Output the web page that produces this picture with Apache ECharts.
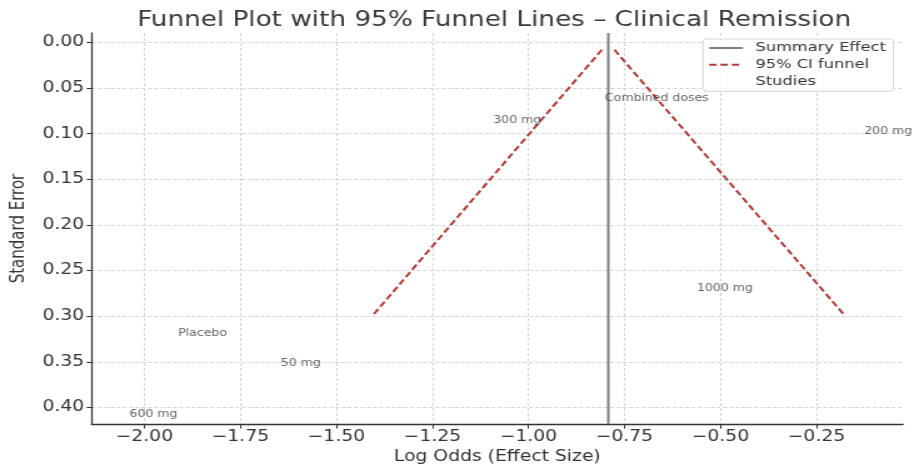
<!DOCTYPE html>
<html>
<head>
<meta charset="utf-8">
<script src="https://cdn.jsdelivr.net/npm/echarts@6/dist/echarts.min.js"></script>
<style>
  html, body { margin: 0; padding: 0; width: 100%; height: 100%; background: #ffffff; overflow: hidden; }
  /* the plot is laid out narrow and widened horizontally, giving the wide lettering */
  #chart { position: absolute; left: 0; top: 0; width: 731px; height: 470px; transform: scaleX(1.2503); transform-origin: 0 0; }
</style>
</head>
<body>
<div id="chart"></div>
<script>
// Study annotations: name, log odds (x) and standard error (y)
const studyNames = ['Placebo', '50 mg', '300 mg', '600 mg', '1000 mg', '200 mg', 'Combined doses'];
const studyLogOdds = [-1.912, -1.645, -1.092, -2.039, -0.5615, -0.126, -0.801];
const studySE = [0.3193, 0.3515, 0.0855, 0.408, 0.270, 0.097, 0.0615];

// Pooled estimate and the two 95% funnel boundaries (log odds, standard error)
const summaryEffect = -0.792;
const funnelLeft = [[-0.809, 0.008], [-1.407, 0.30]];
const funnelRight = [[-0.776, 0.008], [-0.175, 0.30]];

// Axis extents and tick positions
const xRange = [-2.1372, -0.0248];
const yRange = [-0.0104, 0.4183];
const xTicks = [-2.0, -1.75, -1.5, -1.25, -1.0, -0.75, -0.5, -0.25];
const yTicks = [0, 0.05, 0.1, 0.15, 0.2, 0.25, 0.3, 0.35, 0.4];

const FONT = 'DejaVu Sans';
const TEXT = '#333333';
const FUNNEL = '#b23a3a';

function fmtTick(v) {
  const s = Math.abs(v).toFixed(2);
  return v < -1e-9 ? '\u2212' + s : s;
}

const hiddenMarker = { color: 'rgba(0,0,0,0)', borderColor: 'rgba(0,0,0,0)', borderWidth: 0, opacity: 0 };
const gridLine = { show: true, lineStyle: { color: '#d4d4d4', width: 1, type: [3, 2] } };

const chart = echarts.init(document.getElementById('chart'), null, { renderer: 'canvas', width: 731, height: 470 });

chart.setOption({
  animation: false,
  backgroundColor: '#ffffff',
  title: {
    text: 'Funnel Plot with 95% Funnel Lines \u2013 Clinical Remission',
    left: 395.2,
    top: 10,
    padding: 0,
    textAlign: 'center',
    textStyle: { fontFamily: FONT, fontSize: 21, fontWeight: 'normal', color: '#3a3a3a' }
  },
  legend: {
    orient: 'vertical',
    left: 562.2,
    top: 39,
    data: [
      { name: 'Summary Effect', itemStyle: hiddenMarker },
      { name: '95% CI funnel', itemStyle: hiddenMarker },
      { name: 'Studies', icon: 'rect', itemStyle: hiddenMarker }
    ],
    itemWidth: 27,
    itemHeight: 14,
    itemGap: 2.7,
    padding: [2, 6, 3, 4],
    borderColor: '#d6d6d6',
    borderWidth: 1,
    borderRadius: 3,
    backgroundColor: 'rgba(255,255,255,0.85)',
    selectedMode: false,
    textStyle: { fontFamily: FONT, fontSize: 13, color: TEXT, lineHeight: 14, padding: [0, 0, 0, 5] }
  },
  grid: { left: 69.6, right: 8.8, top: 33, bottom: 38, containLabel: false },
  xAxis: {
    type: 'value',
    min: xRange[0],
    max: xRange[1],
    name: 'Log Odds (Effect Size)',
    nameLocation: 'middle',
    nameGap: 23,
    nameTextStyle: { fontFamily: FONT, fontSize: 15, color: TEXT },
    axisLine: { show: true, onZero: false, lineStyle: { color: '#333333', width: 1.3 } },
    axisTick: { show: true, length: 4.5, customValues: xTicks, lineStyle: { color: '#333333', width: 1 } },
    axisLabel: { customValues: xTicks, formatter: fmtTick, margin: 6, fontFamily: FONT, fontSize: 15, color: TEXT },
    splitLine: gridLine
  },
  yAxis: {
    type: 'value',
    inverse: true,
    min: yRange[0],
    max: yRange[1],
    name: 'Standard Error',
    nameLocation: 'middle',
    nameGap: 43,
    nameTextStyle: { fontFamily: FONT, fontSize: 15, color: TEXT },
    axisLine: { show: true, onZero: false, lineStyle: { color: '#333333', width: 1.3 } },
    axisTick: { show: true, length: 4, customValues: yTicks, lineStyle: { color: '#333333', width: 1 } },
    axisLabel: { customValues: yTicks, formatter: fmtTick, margin: 6, fontFamily: FONT, fontSize: 15, color: TEXT },
    splitLine: gridLine
  },
  series: [
    {
      name: 'Summary Effect',
      type: 'line',
      symbol: 'none',
      silent: true,
      z: 3,
      lineStyle: { color: '#808080', width: 2 },
      itemStyle: { color: '#808080' },
      data: [[summaryEffect, yRange[0]], [summaryEffect, yRange[1]]]
    },
    {
      name: '95% CI funnel',
      type: 'line',
      symbol: 'none',
      silent: true,
      z: 4,
      lineStyle: { color: FUNNEL, width: 2, type: [6, 3] },
      itemStyle: { color: FUNNEL },
      data: funnelLeft
    },
    {
      name: '95% CI funnel',
      type: 'line',
      symbol: 'none',
      silent: true,
      z: 4,
      lineStyle: { color: FUNNEL, width: 2, type: [6, 3] },
      itemStyle: { color: FUNNEL },
      data: funnelRight
    },
    {
      name: 'Studies',
      type: 'scatter',
      symbolSize: 0.1,
      silent: true,
      z: 5,
      itemStyle: { color: 'transparent' },
      label: {
        show: true,
        position: 'right',
        distance: 0,
        formatter: p => p.name,
        fontFamily: FONT,
        fontSize: 10,
        color: '#3a3a3a'
      },
      data: studyNames.map((n, i) => ({ name: n, value: [studyLogOdds[i], studySE[i]] }))
    }
  ]
});
</script>
</body>
</html>
